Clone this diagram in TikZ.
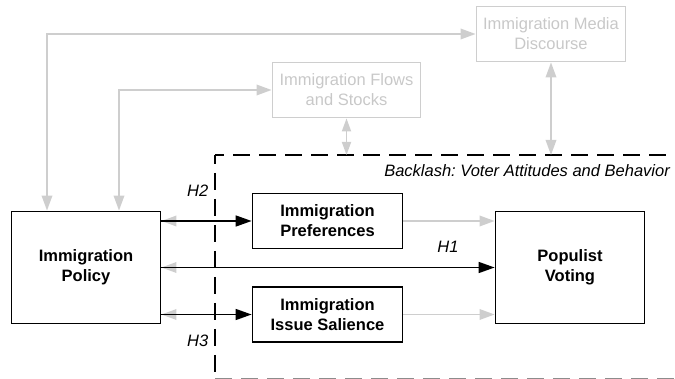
\documentclass[tikz,border=0pt]{standalone}
\usepackage{fontspec}
\setmainfont{Liberation Sans}
\usetikzlibrary{arrows.meta,calc}
\definecolor{lg}{RGB}{206,206,206}
\definecolor{lgt}{RGB}{200,200,200}
\frenchspacing
\begin{document}
\begin{tikzpicture}[x=1pt,y=-1pt,
  font=\fontsize{16.5}{20}\selectfont,
  bbox/.style={draw=black,line width=1.8pt,align=center,inner sep=0pt,font=\fontsize{16.5}{20}\selectfont\bfseries},
  gbox/.style={draw=lg,line width=1.8pt,align=center,inner sep=0pt,text=lgt},
  garr/.style={draw=lg,line width=1.8pt,arrows={-Triangle[length=15pt,width=10.5pt]}},
  gdbl/.style={draw=lg,line width=1.8pt,arrows={Triangle[length=15pt,width=10.5pt]-Triangle[length=15pt,width=10.5pt]}},
  gsmall/.style={draw=lg,line width=1.8pt,arrows={Triangle[length=13pt,width=9pt]-Triangle[length=13pt,width=9pt]}},
  barr/.style={draw=black,line width=1.6pt,arrows={-Triangle[length=16pt,width=11pt]}},
  dline/.style={draw=black,line width=1.8pt,dash pattern=on 17pt off 9pt,dash phase=8pt},
  hlab/.style={inner sep=0pt,font=\fontsize{16.5}{20}\selectfont\itshape}
]
\useasboundingbox (0,0) rectangle (675,379);

% nodes
\node[bbox,minimum width=149pt,minimum height=112pt] (policy) at (86,267.5) {Immigration\\Policy};
\node[bbox,minimum width=150pt,minimum height=55pt] (pref) at (327.5,221) {Immigration\\Preferences};
\node[bbox,minimum width=150pt,minimum height=55pt] (sal) at (327.5,314.5) {Immigration\\Issue Salience};
\node[bbox,minimum width=149pt,minimum height=112pt] (pop) at (570,267.5) {Populist\\Voting};
\node[gbox,minimum width=148pt,minimum height=55pt] (flows) at (346.5,90) {Immigration Flows\\and Stocks};
\node[gbox,minimum width=149pt,minimum height=55pt] (media) at (551,34) {Immigration Media\\Discourse};

% dashed backlash frame
\coordinate (corner) at (215,155);
\coordinate (topend) at (676,155);
\coordinate (leftend) at (215,380);
\begin{scope}
\clip (0,0) rectangle (675,379);
\draw[dline] (corner) -- (topend);
\draw[dline] (corner) -- (leftend);
\draw[dline,draw=black!45,dash phase=0pt] (215,378.8) -- (680,378.8);
\end{scope}
\node[hlab,anchor=base east] (backlash) at (670,177) {Backlash: Voter Attitudes and Behavior};

% gray feedback connectors
\coordinate (xa) at (47,0);
\coordinate (xb) at (119,0);
\draw[gdbl] (media.west) -| (xa |- policy.north);
\draw[gdbl] (flows.west) -| (xb |- policy.north);
\coordinate (fl) at (flows.south |- corner);
\coordinate (md) at (media.south |- corner);
\draw[gsmall] (flows.south) -- (fl);
\draw[gdbl] (media.south) -- (md);

% gray tips pointing back to policy
\draw[garr] ($(policy.east |- pref.west)+(17,0)$) -- (policy.east |- pref.west);
\draw[garr] ($(policy.east |- pop.west)+(17,0)$) -- (policy.east |- pop.west);
\draw[garr] ($(policy.east |- sal.west)+(17,0)$) -- (policy.east |- sal.west);

% gray mediator to outcome
\draw[garr] (pref.east) -- (pop.west |- pref.east);
\draw[garr] (sal.east) -- (pop.west |- sal.east);

% black hypotheses
\draw[barr] (policy.east |- pref.west) -- (pref.west);
\draw[barr] (policy.east) -- (pop.west);
\draw[barr] (policy.east |- sal.west) -- (sal.west);

\node[hlab] (h2) at (197.7,191) {H2};
\node[hlab] (h1) at (448,247) {H1};
\node[hlab] (h3) at (197.7,340.5) {H3};
\end{tikzpicture}
\end{document}
